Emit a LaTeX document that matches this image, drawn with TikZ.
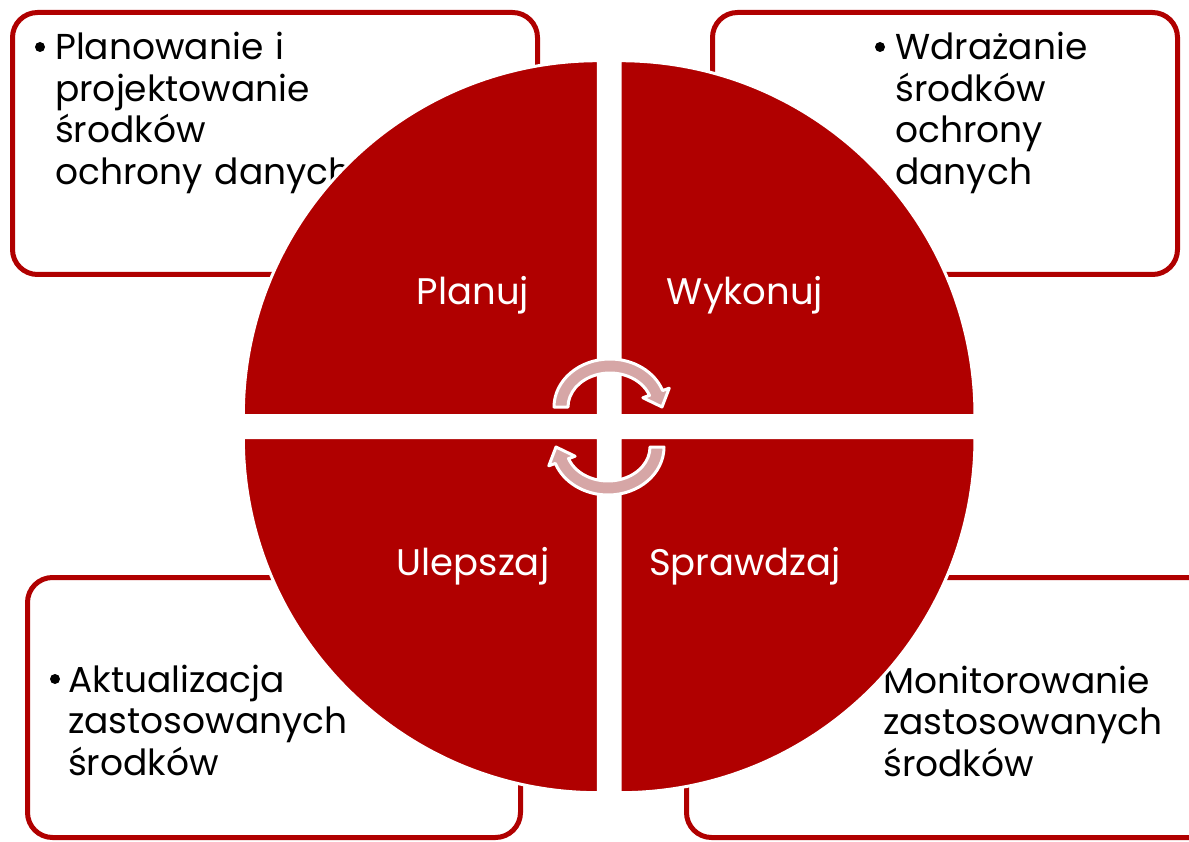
\documentclass[tikz,border=0pt]{standalone}
\usepackage{fontspec}
\newfontfamily\gothic{Poppins}
\definecolor{pdcared}{RGB}{176,0,0}
\definecolor{pdcapink}{RGB}{214,166,166}
\tikzset{
  quad/.style={fill=pdcared,draw=white,line width=3pt},
  stepbox/.style={draw=pdcared,fill=white,line width=5pt,rounded corners=25pt},
  boxtext/.style={anchor=base west,inner sep=0pt,text width=420pt,align=left,
    font=\gothic\fontsize{36}{41.5}\selectfont},
  bullet/.style={circle,fill=black,inner sep=0pt,minimum size=10pt},
  quadlabel/.style={anchor=base,inner sep=0pt,text=white,
    font=\gothic\fontsize{37}{40}\selectfont},
  arrowband/.style={fill=pdcapink,draw=white,line width=3pt,line join=round}
}
% one curved arrow, centred at the origin of the current scope
\newcommand{\cyclearrow}{%
  \filldraw[arrowband] (180:56 and 48)
    arc[start angle=180,end angle=340,x radius=56,y radius=48]
    -- (340:63 and 55) -- (52,0) -- (340:35 and 27) -- (340:42 and 34)
    arc[start angle=340,end angle=180,x radius=42,y radius=34] -- cycle;}

\begin{document}
\begin{tikzpicture}[x=1pt,y=-1pt]
  \useasboundingbox (0,0) rectangle (1189,842);
  % the four boxes
  \draw[stepbox] (12.5,12.5) rectangle (537.5,274.5);
  \draw[stepbox] (712.5,12.5) rectangle (1177.5,274.5);
  \draw[stepbox] (27.5,577.5) rectangle (520.5,837.5);
  \draw[stepbox] (686.5,577.5) rectangle (1215,837.5);
  % box texts
  \node[bullet] (dotplan) at (40,47) {};
  \node[boxtext] (txtplan) at (55,60) {Planowanie i\\projektowanie\\środków\\ochrony danych};
  \node[bullet] (dotdo) at (880,47) {};
  \node[boxtext] (txtdo) at (895,60) {Wdrażanie\\środków\\ochrony\\danych};
  \node[bullet] (dotact) at (55,679) {};
  \node[boxtext] (txtact) at (68,692) {Aktualizacja\\zastosowanych\\środków};
  \node[boxtext] (txtcheck) at (883,693) {Monitorowanie\\zastosowanych\\środków};
  % quarters of the circle
  \filldraw[quad] (598.3,415.7) -- ++(-355,0) arc[start angle=180,end angle=270,radius=355] -- cycle;
  \filldraw[quad] (620,415.7) -- ++(0,-355) arc[start angle=270,end angle=360,radius=355] -- cycle;
  \filldraw[quad] (620,437.7) -- ++(355,0) arc[start angle=0,end angle=90,radius=355] -- cycle;
  \filldraw[quad] (598.3,437.7) -- ++(0,355) arc[start angle=90,end angle=180,radius=355] -- cycle;
  % labels
  \node[quadlabel] (plan) at (473,305) {Planuj};
  \node[quadlabel] (do) at (745,305) {Wykonuj};
  \node[quadlabel] (act) at (473,575) {Ulepszaj};
  \node[quadlabel] (check) at (745,575) {Sprawdzaj};
  % arrows in the middle
  \begin{scope}[shift={(610,407)}]
    \cyclearrow
  \end{scope}
  \begin{scope}[shift={(608,447)},rotate=180]
    \cyclearrow
  \end{scope}
\end{tikzpicture}
\end{document}
